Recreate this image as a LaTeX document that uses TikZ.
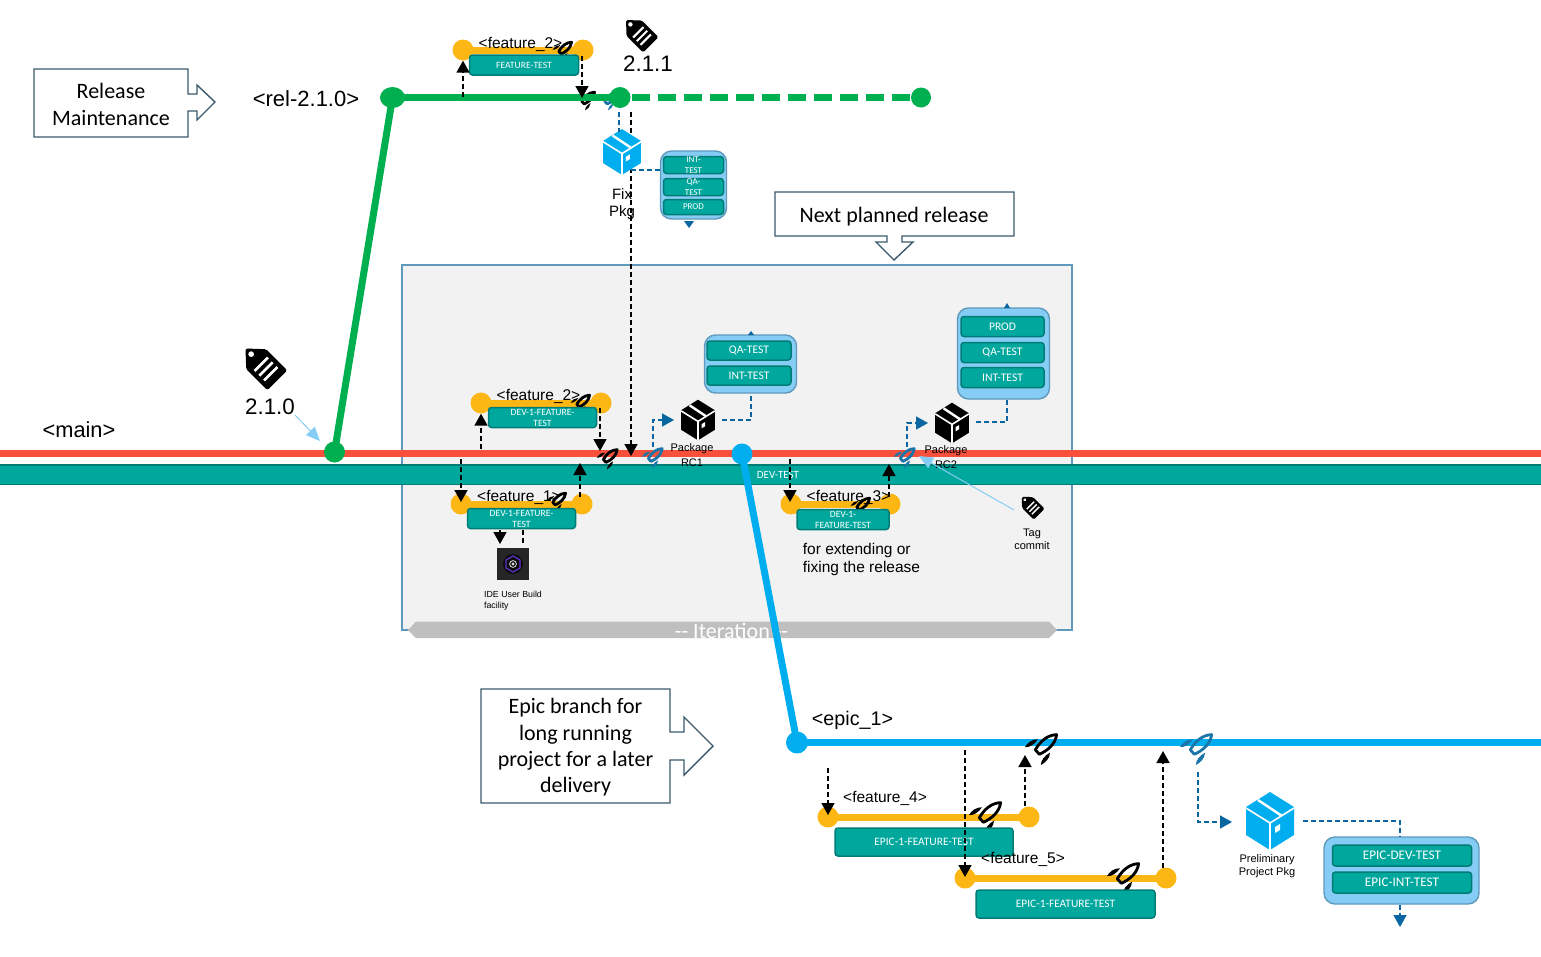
\documentclass[tikz,border=0pt]{standalone}
\usepackage{fontspec}
\setmainfont{Liberation Sans}
\newfontfamily\calfont{Carlito}
\usetikzlibrary{arrows.meta,shapes.geometric}
\definecolor{teal1}{HTML}{00A79D}
\definecolor{teal2}{HTML}{007C76}
\definecolor{orange1}{HTML}{FDB714}
\definecolor{green1}{HTML}{00AF50}
\definecolor{red1}{HTML}{F8503A}
\definecolor{blue1}{HTML}{00AEEF}
\definecolor{blue2}{HTML}{0A66A0}
\definecolor{blue3}{HTML}{1B75A8}
\definecolor{panel}{HTML}{85CDF5}
\definecolor{panelb}{HTML}{5F99BB}
\definecolor{callout}{HTML}{3A5A6C}
\tikzset{
 x=1pt,y=-1pt,
 lbl/.style={font=\fontsize{#1}{#1}\selectfont,inner sep=0pt,align=center,text=black},
 lbl/.default=15,
 calltxt/.style={font=\calfont\fontsize{22}{26.3}\selectfont,inner sep=0pt,align=center},
 callbox/.style={draw=callout,line width=1.4pt,fill=white},
 env/.style={draw=teal2,line width=1.5pt,fill=teal1,rounded corners=3pt,text=white,inner sep=0pt,align=center,font=\calfont\fontsize{#1}{11}\selectfont},
 env/.default=10,
 panelbox/.style={draw=panelb,line width=1.4pt,fill=panel,rounded corners=11pt},
 mergearr/.style={draw=black,line width=1.6pt,dash pattern=on 5pt off 3pt,-{Triangle[length=12pt,width=13pt]}},
 mergeline/.style={draw=black,line width=1.6pt,dash pattern=on 5pt off 3pt},
 pkgarr/.style={draw=blue2,line width=1.6pt,dash pattern=on 5pt off 3pt,-{Triangle[length=12pt,width=13pt]}},
 pkgline/.style={draw=blue2,line width=1.6pt,dash pattern=on 5pt off 3pt},
 dotnode/.style={circle,inner sep=0pt,minimum size=#1},
 rocket/.pic={
   \begin{scope}[rotate=-48]
   \draw[line width=2.8pt,fill=none,line join=round] (0,-17) .. controls (6,-10) and (6,0) .. (3,9) -- (-3,9) .. controls (-6,0) and (-6,-10) .. (0,-17) -- cycle;
   \fill (-9,0) .. controls (-13,4) and (-13.5,10) .. (-12,15) .. controls (-8.5,12) and (-7.5,6) .. (-9,0) -- cycle;
   \fill (9,0) .. controls (13,4) and (13.5,10) .. (12,15) .. controls (8.5,12) and (7.5,6) .. (9,0) -- cycle;
   \end{scope}
 },
 cube/.pic={
   \fill (0,-29) -- (24,-14) -- (24,14) -- (0,29) -- (-24,14) -- (-24,-14) -- cycle;
   \draw[white,line width=1.6pt] (-24,-13) -- (0,2) -- (24,-13) (0,2) -- (0,29);
   \draw[white,line width=2.4pt] (-12,-21) -- (12,-5);
   \fill[white] (5,6) -- (10,3) -- (10,9) -- (5,12) -- cycle;
 },
 tagicon/.pic={
   \begin{scope}[rotate=45]
   \fill[black,even odd rule,rounded corners=1.5pt] (0,-29) -- (14,-14) -- (14,16) -- (-14,16) -- (-14,-14) -- cycle
     (0,-21) circle[radius=3];
   \fill[white] (-9.5,-8) rectangle (9.5,-5.4) (-9.5,-1.3) rectangle (9.5,1.3) (-9.5,5.4) rectangle (9.5,8);
   \end{scope}
 },
}
\begin{document}
\begin{tikzpicture}
\useasboundingbox (0,0) rectangle (1541,956);
% Iteration frame
\node[draw=panelb,line width=1.2pt,fill=black!5,minimum width=670pt,minimum height=365pt,inner sep=0pt] (iter) at (737,447.5) {};
\fill[black!25] (408,630) -- (416,621.5) -- (1049,621.5) -- (1057,630) -- (1049,638) -- (416,638) -- cycle;
\node[font=\calfont\fontsize{22}{22}\selectfont,text=white,inner sep=0pt] (itert) at (731.5,630.5) {-- Iteration --};
% Callouts
\draw[callbox] (34,69) -- (188,69) -- (188,94) -- (197,94) -- (197,85) -- (215,102) -- (197,120) -- (197,111) -- (188,111) -- (188,137) -- (34,137) -- cycle;
\node[calltxt] (callrel) at (111,104.5) {Release\\Maintenance};
\draw[callbox] (775,192) -- (1014,192) -- (1014,236) -- (902,236) -- (902,242) -- (913,242) -- (894,260) -- (876,242) -- (887,242) -- (887,236) -- (775,236) -- cycle;
\node[calltxt] (callnext) at (894,217) {Next planned release};
\draw[callbox] (481,689) -- (670,689) -- (670,732) -- (684,732) -- (684,717) -- (713,746) -- (684,775) -- (684,760) -- (670,760) -- (670,803) -- (481,803) -- cycle;
\node[calltxt] (callepic) at (575.5,747.5) {Epic branch for\\long running\\project for a later\\delivery};
% main lines
\fill[teal1] (0,465) rectangle (1541,484);
\draw[teal2,line width=1.5pt] (0,465) -- (1541,465) (0,484.5) -- (1541,484.5);
\coordinate (mainL) at (0,453.5); \coordinate (mainR) at (1541,453.5);
\draw[red1,line width=7pt] (mainL) -- (mainR);
\node[font=\calfont\fontsize{11}{11}\selectfont,text=white] (devtest) at (778,475) {DEV-TEST};
% rockets under the release line
\pic[black,scale=.6] at (587,99) {rocket};
\pic[blue3,scale=.6] at (610,99) {rocket};
% rel branch
\node[dotnode=21pt,fill=green1] (n210) at (334.5,452) {};
\node[ellipse,inner sep=0pt,minimum width=25pt,minimum height=21pt,fill=green1] (rel0) at (392.5,97.5) {};
\node[dotnode=21pt,fill=green1] (rel1) at (620,97.5) {};
\node[dotnode=20pt,fill=green1] (rel2) at (921,97.5) {};
\draw[green1,line width=7pt] (n210.center) -- (rel0.center);
\draw[green1,line width=7pt] (rel0.center) -- (rel1.center);
\draw[green1,line width=7pt,dash pattern=on 18pt off 8pt] (rel1.east) ++(1,0) -- (rel2.west);
% epic branch
\node[dotnode=21pt,fill=blue1] (e0) at (742,454) {};
\node[dotnode=22pt,fill=blue1] (e1) at (797,742.5) {};
\coordinate (eR) at (1541,742.5);
\draw[blue1,line width=7pt] (e0.center) -- (e1.center);
\draw[blue1,line width=7pt] (e1.center) -- (eR);
% feature bars
\newcommand{\featbar}[4]{%
 \node[dotnode=21pt,fill=orange1] (#1a) at (#2,#4) {};
 \node[dotnode=21pt,fill=orange1] (#1b) at (#3,#4) {};
 \draw[orange1,line width=7pt] (#1a.center) -- (#1b.center);
}
\featbar{fa}{463}{583}{50}
\featbar{fb}{481}{601}{403}
\featbar{fc}{461}{582}{504}
\featbar{fd}{791}{890}{504}
\featbar{fe}{828}{1029}{817}
\featbar{ff}{965}{1166}{878}
% rockets on features
\pic[black,scale=.6] at (564,49) {rocket};
\pic[black,scale=.6] at (582,402) {rocket};
\pic[black,scale=.6] at (558,500) {rocket};
\pic[black,scale=.6] at (862,505) {rocket};
\pic[black,scale=1] at (988,814) {rocket};
\pic[black,scale=1] at (1126,875) {rocket};
% env boxes
\node[env=9.6,minimum width=109pt,minimum height=20pt] (ea) at (524,65) {FEATURE-TEST};
\node[env=9.6,minimum width=108pt,minimum height=20pt] (eb) at (542.5,417.5) {DEV-1-FEATURE-\\TEST};
\node[env=9.6,minimum width=108pt,minimum height=20pt] (ec) at (521.5,518.5) {DEV-1-FEATURE-\\TEST};
\node[env=9.6,minimum width=92pt,minimum height=20pt] (ed) at (843,519.5) {DEV-1-\\FEATURE-TEST};
\node[env=11.4,minimum width=178pt,minimum height=28pt] (ee) at (924,842) {EPIC-1-FEATURE-TEST};
\node[env=11.4,minimum width=179pt,minimum height=28pt] (ef) at (1065.5,904) {EPIC-1-FEATURE-TEST};
% feature labels
\node[lbl=15.5] (la) at (520.5,44) {<feature\_2>};
\node[lbl=15.5] (lb) at (538.5,396) {<feature\_2>};
\node[lbl=15.5] (lc) at (519,497) {<feature\_1>};
\node[lbl=15.5] (ld) at (848.5,497) {<feature\_3>};
\node[lbl=15.5] (le) at (885,798) {<feature\_4>};
\node[lbl=15.5] (lf) at (1023,859) {<feature\_5>};
% merge markers on main/epic
\pic[black,scale=.65] at (609,457) {rocket};
\pic[blue3,scale=.65] at (654,456) {rocket};
\pic[blue3,scale=.65] at (906,456) {rocket};
\pic[black,scale=1] at (1044,746) {rocket};
\pic[blue3,scale=1] at (1199,746) {rocket};
% merge arrows
\coordinate (a1) at (463,97); \coordinate (a2) at (582,56); \coordinate (a2e) at (582,98);
\draw[mergearr] (a1) -- (faa.south);
\draw[mergearr] (a2) -- (a2e);
\coordinate (b1) at (481,449); \coordinate (b2) at (600,408); \coordinate (b2e) at (600,451);
\draw[mergearr] (b1) -- (fba.south);
\draw[mergearr] (b2) -- (b2e);
\coordinate (c1) at (461,459); \coordinate (c1e) at (461,502);
\draw[mergearr] (c1) -- (c1e);
\coordinate (c2) at (580,497); \coordinate (c2e) at (580,463);
\draw[mergearr] (c2) -- (c2e);
\coordinate (d1) at (790,459); \coordinate (d1e) at (790,502);
\draw[mergearr] (d1) -- (d1e);
\coordinate (d2) at (889,497); \coordinate (d2e) at (889,464);
\draw[mergearr] (d2) -- (d2e);
\coordinate (g1) at (631,112); \coordinate (g1e) at (631,456);
\draw[mergearr] (g1) -- (g1e);
\coordinate (e41) at (828,768); \coordinate (e41e) at (828,815);
\draw[mergearr] (e41) -- (e41e);
\coordinate (e42) at (1025,806); \coordinate (e42e) at (1025,755);
\draw[mergearr] (e42) -- (e42e);
\coordinate (e51) at (965,750); \coordinate (e51e) at (965,877);
\draw[mergearr] (e51) -- (e51e);
\coordinate (e52) at (1163,868); \coordinate (e52e) at (1163,751);
\draw[mergearr] (e52) -- (e52e);
% IDE
\node[fill=black!85,minimum size=32pt,inner sep=0pt] (ide) at (513,564) {};
\fill[black!95] (513,564) circle[radius=10];
\draw[blue!55!violet!80!white,line width=1.2pt] (513,556) -- (520,560) -- (520,568) -- (513,572) -- (506,568) -- (506,560) -- cycle;
\fill[black!15] (513,564) circle[radius=1.6];
\draw[black!15,line width=.8pt] (513,564) circle[radius=3.4];
\coordinate (i1) at (500,530); \coordinate (i1e) at (500,544);
\draw[mergearr] (i1) -- (i1e);
\coordinate (i2) at (523,530); \coordinate (i2e) at (523,544);
\draw[mergeline] (i2) -- (i2e);
\node[inner sep=0pt,align=left,font=\fontsize{8.8}{11}\selectfont] (idet) at (513,601) {IDE User Build\\facility};
% Fix Pkg
\pic[blue1,scale=.79] at (622,152) {cube};
\node[inner sep=0pt,align=center,font=\fontsize{15}{17}\selectfont] (fix) at (622,204) {Fix\\Pkg};
\node[panelbox,minimum width=66pt,minimum height=68pt] (pa) at (693.5,185) {};
\node[env=9,minimum width=60pt,minimum height=17pt] (pa1) at (693.5,165) {INT-\\TEST};
\node[env=9,minimum width=60pt,minimum height=17pt] (pa2) at (693.5,187) {QA-\\TEST};
\node[env=9,minimum width=60pt,minimum height=15pt] (pa3) at (693.5,207) {PROD};
\coordinate (k1) at (619,112); \coordinate (k2) at (619,132);
\draw[pkgline] (k1) -- (k2);
\coordinate (k3) at (631,170);
\draw[pkgline] (k3) -- (k3 -| pa.west);
\fill[blue2] (684,221) -- (694,221) -- (689,228) -- cycle;
% Package RC1
\pic[black,scale=.7] at (698,420) {cube};
\node[inner sep=0pt,align=center,font=\fontsize{11}{15}\selectfont] (rc1) at (692,455) {Package\\RC1};
\node[panelbox,minimum width=92pt,minimum height=58pt] (pb) at (750.5,364) {};
\node[env=11.6,minimum width=84pt,minimum height=19pt] (pb1) at (749,350.5) {QA-TEST};
\node[env=11.6,minimum width=84pt,minimum height=19pt] (pb2) at (749,375.5) {INT-TEST};
\coordinate (q1) at (722,420); \coordinate (q2) at (751,420);
\draw[pkgline] (q1) -- (q2) -- (q2 |- pb.south);
\fill[blue2] (748,335) -- (754,335) -- (751,331) -- cycle;
\coordinate (r1) at (653,447); \coordinate (r1e) at (674,420); \coordinate (r1m) at (653,420);
\draw[pkgarr] (r1) -- (r1m) -- (r1e);
% Package RC2
\pic[black,scale=.7] at (952,423) {cube};
\node[inner sep=0pt,align=center,font=\fontsize{11}{15}\selectfont] (rc2) at (946,457.5) {Package\\RC2};
\node[panelbox,minimum width=92pt,minimum height=91pt] (pc) at (1003.5,353.5) {};
\node[env=11.6,minimum width=83pt,minimum height=20pt] (pc1) at (1002.5,326.5) {PROD};
\node[env=11.6,minimum width=83pt,minimum height=20pt] (pc2) at (1002.5,352.5) {QA-TEST};
\node[env=11.6,minimum width=83pt,minimum height=20pt] (pc3) at (1002.5,377.5) {INT-TEST};
\coordinate (q3) at (976,422); \coordinate (q4) at (1007,422);
\draw[pkgline] (q3) -- (q4) -- (q4 |- pc.south);
\fill[blue2] (1004,308) -- (1010,308) -- (1007,303) -- cycle;
\coordinate (r2) at (907,447); \coordinate (r2e) at (928,423); \coordinate (r2m) at (907,423);
\draw[pkgarr] (r2) -- (r2m) -- (r2e);
% Preliminary
\pic[blue1,scale=1] at (1270,821) {cube};
\node[inner sep=0pt,align=center,font=\fontsize{11}{13.5}\selectfont] (prelim) at (1267,866) {Preliminary\\Project Pkg};
\node[panelbox,minimum width=155pt,minimum height=67pt] (pd) at (1401.5,870.5) {};
\node[env=13.2,minimum width=139pt,minimum height=21pt] (pd1) at (1402,855.5) {EPIC-DEV-TEST};
\node[env=13.2,minimum width=139pt,minimum height=21pt] (pd2) at (1402,882.5) {EPIC-INT-TEST};
\coordinate (s1) at (1303,821); \coordinate (s2) at (1400,821); \coordinate (s3) at (1400,927);
\draw[pkgline] (s1) -- (s2) -- (s2 |- pd.north);
\draw[pkgarr] (s3 |- pd.south) -- (s3);
\coordinate (s4) at (1198,772); \coordinate (s5) at (1198,822); \coordinate (s6) at (1232,822);
\draw[pkgarr] (s4) -- (s5) -- (s6);
% Tags
\pic[scale=1] at (266,369) {tagicon};
\node[lbl=22.4] (t210) at (270,407) {2.1.0};
\pic[scale=.78] at (642,36) {tagicon};
\node[lbl=22.4] (t211) at (648,64) {2.1.1};
\pic[scale=.55] at (1033,508) {tagicon};
\node[inner sep=0pt,align=center,font=\fontsize{11}{13}\selectfont] (tagc) at (1032,539) {Tag\\commit};
\coordinate (u1) at (1014,510); \coordinate (u2) at (919,456);
\draw[-{Triangle[length=14pt,width=12pt]},panel,line width=1pt] (u1) -- (u2);
\coordinate (u3) at (295,415); \coordinate (u4) at (320,441);
\draw[-{Triangle[length=14pt,width=12pt]},panel,line width=1pt] (u3) -- (u4);
% Branch labels
\node[lbl=22] (lrel) at (306,98.5) {<rel-2.1.0>};
\node[lbl=21.8] (lmain) at (79,430) {<main>};
\node[lbl=19.7] (lepic) at (852.5,720) {<epic\_1>};
\node[inner sep=0pt,align=left,font=\fontsize{15.5}{18}\selectfont] (fix2) at (861.5,559.5) {for extending or\\fixing the release};
\end{tikzpicture}
\end{document}
